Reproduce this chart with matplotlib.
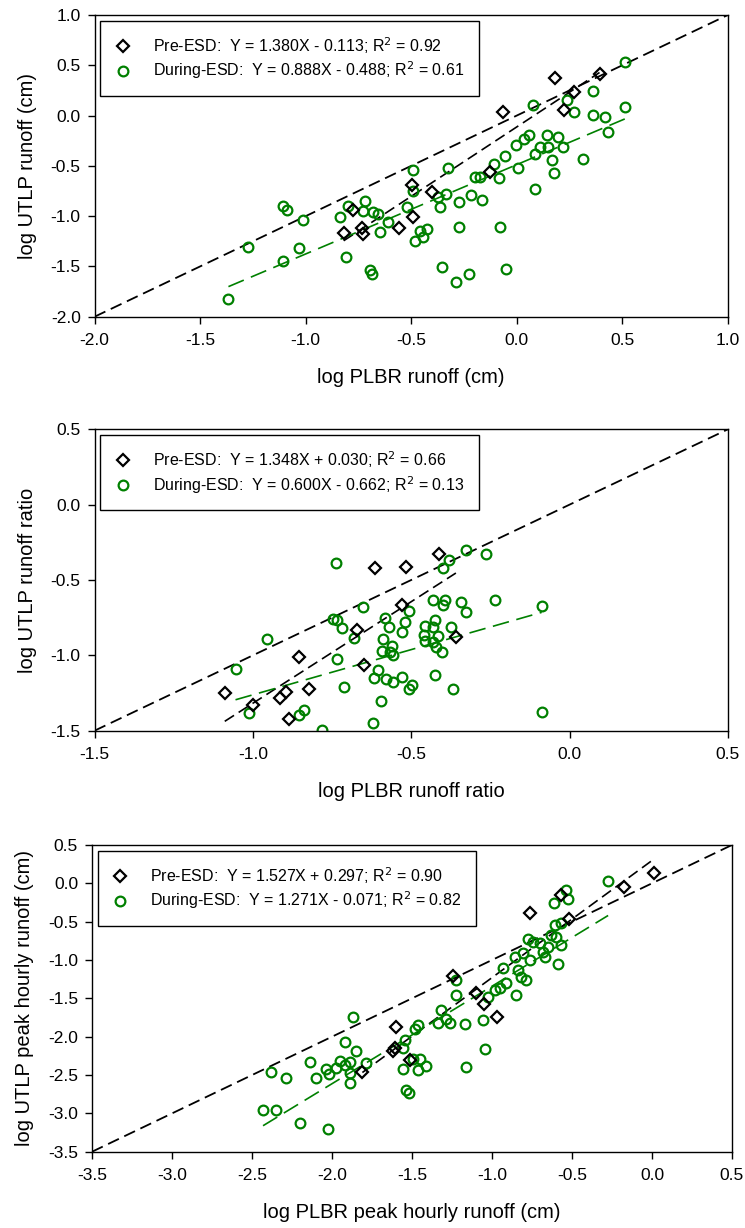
import numpy as np
import matplotlib
matplotlib.use("Agg")
import matplotlib.pyplot as plt

plt.rcParams['font.family'] = ['Liberation Sans', 'DejaVu Sans']

# panel 1: runoff
pre1_x = [-0.82, -0.735, -0.73, -0.775, -0.556, -0.498, -0.493, -0.40, -0.126, -0.063, 0.182, 0.269, 0.226, 0.392]
pre1_y = [-1.17, -1.12, -1.18, -0.935, -1.12, -0.69, -1.005, -0.756, -0.557, 0.04, 0.375, 0.232, 0.056, 0.415]
dur1_x = [-1.366, -1.272, -1.109, -1.09, -1.109, -1.03, -1.014, -0.837, -0.809, -0.801, -0.719, -0.727,
          -0.679, -0.656, -0.648, -0.695, -0.687, -0.608, -0.521, -0.49, -0.49, -0.482, -0.458, -0.442,
          -0.427, -0.371, -0.363, -0.335, -0.327, -0.272, -0.272, -0.218, -0.166, -0.355, -0.288, -0.224,
          -0.051, -0.079, -0.197, -0.174, -0.106, -0.082, -0.058, 0.005, -0.005, 0.035, 0.058, 0.076,
          0.087, 0.087, 0.111, 0.142, 0.15, 0.166, 0.174, 0.193, 0.221, 0.237, 0.269, 0.316, 0.363,
          0.363, 0.419, 0.43, 0.513, 0.513]
dur1_y = [-1.824, -1.31, -0.896, -0.939, -1.443, -1.32, -1.038, -1.005, -1.41, -0.896, -0.846, -0.945,
          -0.962, -0.978, -1.161, -1.536, -1.575, -1.061, -0.912, -0.541, -0.746, -1.244, -1.144, -1.21,
          -1.128, -0.813, -0.912, -0.779, -0.524, -0.862, -1.104, -0.789, -0.839, -1.509, -1.652, -1.575,
          -1.526, -1.104, -0.607, -0.607, -0.481, -0.624, -0.398, -0.524, -0.289, -0.232, -0.192, 0.106,
          -0.73, -0.381, -0.308, -0.192, -0.315, -0.441, -0.574, -0.216, -0.315, 0.156, 0.033, -0.431, 0.249,
          0.01, -0.01, -0.166, 0.531, 0.083]

# panel 2: runoff ratio
pre2_x = [-0.614, -0.517, -0.53, -0.672, -0.854, -1.089, -1.001, -0.915, -0.894, -0.822, -0.649, -0.886, -0.411, -0.359]
pre2_y = [-0.423, -0.414, -0.667, -0.832, -1.012, -1.25, -1.327, -1.281, -1.243, -1.221, -1.061, -1.424, -0.33, -0.88]
dur2_x = [-0.739, -0.652, -0.746, -0.735, -0.72, -0.681, -0.957, -0.736, -1.055, -0.583, -0.569, -0.506,
          -0.52, -0.53, -0.589, -0.562, -0.591, -0.567, -0.557, -0.604, -0.618, -0.58, -0.557, -0.53,
          -0.499, -0.506, -0.713, -0.597, -1.011, -0.84, -0.856, -0.783, -0.62,
          -0.328, -0.264, -0.38, -0.401, -0.43, -0.393, -0.399, -0.343, -0.327, -0.236, -0.088,
          -0.425, -0.457, -0.43, -0.376, -0.461, -0.457, -0.414, -0.43, -0.421, -0.404, -0.425, -0.369, -0.088]
dur2_y = [-0.385, -0.676, -0.76, -0.765, -0.818, -0.887, -0.891, -1.023, -1.089, -0.755, -0.814, -0.709,
          -0.781, -0.847, -0.891, -0.935, -0.968, -0.979, -1.001, -1.1, -1.151, -1.155, -1.177, -1.144,
          -1.199, -1.221, -1.21, -1.303, -1.382, -1.364, -1.397, -1.496, -1.448,
          -0.304, -0.326, -0.37, -0.418, -0.634, -0.634, -0.667, -0.645, -0.711, -0.634, -0.671,
          -0.766, -0.804, -0.81, -0.81, -0.863, -0.902, -0.869, -0.913, -0.946, -0.979, -1.133, -1.226, -1.375]

# panel 3: peak hourly runoff
pre3_x = [-1.598, -1.619, -1.608, -1.81, -1.514, -0.764, -0.567, -0.519, -0.177, 0.011, -1.244, -1.102, -1.05, -0.966]
pre3_y = [-1.878, -2.183, -2.152, -2.465, -2.31, -0.391, -0.152, -0.465, -0.043, 0.139, -1.209, -1.435, -1.574, -1.739]
dur3_x = [-1.868, -1.92, -1.848, -2.135, -1.95, -1.888, -1.92, -1.972, -2.035, -2.02, -2.1, -1.888, -1.888,
          -1.785, -2.383, -2.286, -2.431, -2.347, -2.201, -2.027, -1.483, -1.46, -1.556, -1.556, -1.46,
          -1.535, -1.518, -0.274, -0.539, -0.525, -0.614, -0.608, -0.567, -0.629, -0.598, -0.567, -0.65,
          -0.682, -0.671, -0.588, -0.702, -0.744, -0.775, -0.806, -0.765, -0.859, -0.838, -0.817, -0.785,
          -0.931, -0.91, -0.952, -0.983, -1.025, -0.848, -1.223, -1.223, -1.317, -1.285, -1.264, -1.338,
          -1.171, -1.056, -1.046, -1.16, -1.546, -1.494, -1.452, -1.415]
dur3_y = [-1.748, -2.074, -2.183, -2.326, -2.313, -2.326, -2.37, -2.404, -2.426, -2.491, -2.543, -2.478, -2.6,
          -2.348, -2.457, -2.543, -2.957, -2.957, -3.13, -3.2, -1.9, -1.848, -2.152, -2.426, -2.435,
          -2.696, -2.739, 0.035, -0.087, -0.209, -0.252, -0.543, -0.522, -0.674, -0.696, -0.804, -0.826,
          -0.891, -0.957, -1.052, -0.783, -0.761, -0.73, -0.913, -1.0, -0.957, -1.13, -1.217, -1.261,
          -1.109, -1.304, -1.37, -1.391, -1.478, -1.457, -1.261, -1.457, -1.652, -1.774, -1.826, -1.817,
          -1.839, -1.783, -2.165, -2.4, -2.043, -2.291, -2.291, -2.383]

panels = [
    dict(pre=(pre1_x, pre1_y), dur=(dur1_x, dur1_y), lims=(-2.0, 1.0), fit_pre=(1.380, -0.113), fit_dur=(0.888, -0.488),
         lab_pre="Pre-ESD:  Y = 1.380X - 0.113; R$^2$ = 0.92",
         lab_dur="During-ESD:  Y = 0.888X - 0.488; R$^2$ = 0.61",
         xlabel="log PLBR runoff (cm)", ylabel="log UTLP runoff (cm)",
         pos=[0.127, 0.7421, 0.850, 0.2457]),
    dict(pre=(pre2_x, pre2_y), dur=(dur2_x, dur2_y), lims=(-1.5, 0.5), fit_pre=(1.348, 0.030), fit_dur=(0.600, -0.662),
         lab_pre="Pre-ESD:  Y = 1.348X + 0.030; R$^2$ = 0.66",
         lab_dur="During-ESD:  Y = 0.600X - 0.662; R$^2$ = 0.13",
         xlabel="log PLBR runoff ratio", ylabel="log UTLP runoff ratio",
         pos=[0.127, 0.4050, 0.850, 0.2454]),
    dict(pre=(pre3_x, pre3_y), dur=(dur3_x, dur3_y), lims=(-3.5, 0.5), fit_pre=(1.527, 0.297), fit_dur=(1.271, -0.071),
         lab_pre="Pre-ESD:  Y = 1.527X + 0.297; R$^2$ = 0.90",
         lab_dur="During-ESD:  Y = 1.271X - 0.071; R$^2$ = 0.82",
         xlabel="log PLBR peak hourly runoff (cm)", ylabel="log UTLP peak hourly runoff (cm)",
         pos=[0.1235, 0.0621, 0.859, 0.2498]),
]

green = "#008000"
fig = plt.figure(figsize=(7.45, 12.28), dpi=100)

for p in panels:
    ax = fig.add_axes(p["pos"])
    lo, hi = p["lims"]
    # 1:1 line
    ax.plot([lo, hi], [lo, hi], color="black", lw=1.3, dashes=(6.6, 3.3), zorder=1)
    # regression lines over each group's x range
    for (xs, ys), (m, b), col, dsh in [(p["pre"], p["fit_pre"], "black", (6.6, 3.3)),
                                       (p["dur"], p["fit_dur"], green, (10, 4.6))]:
        xr = np.array([min(xs), max(xs)])
        ax.plot(xr, m * xr + b, color=col, lw=1.2, dashes=dsh, zorder=1)
    ax.plot(p["pre"][0], p["pre"][1], ls="none", marker="D", ms=6.5, mfc="none", mec="black",
            mew=1.6, label=p["lab_pre"], zorder=3)
    ax.plot(p["dur"][0], p["dur"][1], ls="none", marker="o", ms=7, mfc="none", mec=green,
            mew=1.6, label=p["lab_dur"], zorder=2)
    ax.set_xlim(lo, hi)
    ax.set_ylim(lo, hi)
    ticks = np.arange(lo, hi + 0.01, 0.5)
    ax.set_xticks(ticks)
    ax.set_yticks(ticks)
    ax.set_xticklabels([f"{t:.1f}" for t in ticks])
    ax.set_yticklabels([f"{t:.1f}" for t in ticks])
    ax.tick_params(direction="out", length=5, width=1, labelsize=12.5)
    ax.tick_params(axis="x", pad=7)
    ax.tick_params(axis="y", pad=5)
    for s in ax.spines.values():
        s.set_linewidth(1.0)
    ax.set_xlabel(p["xlabel"], fontsize=14.5, labelpad=14)
    ax.set_ylabel(p["ylabel"], fontsize=14.5, labelpad=10)
    leg = ax.legend(loc="upper left", fontsize=11.5, frameon=True, fancybox=False, edgecolor="black",
                    framealpha=1, borderpad=0.9, labelspacing=0.25, handlelength=1.0,
                    handletextpad=1.4, borderaxespad=0.35, numpoints=1)
    leg.get_frame().set_linewidth(1.0)

fig.savefig("out.png", dpi=100)
